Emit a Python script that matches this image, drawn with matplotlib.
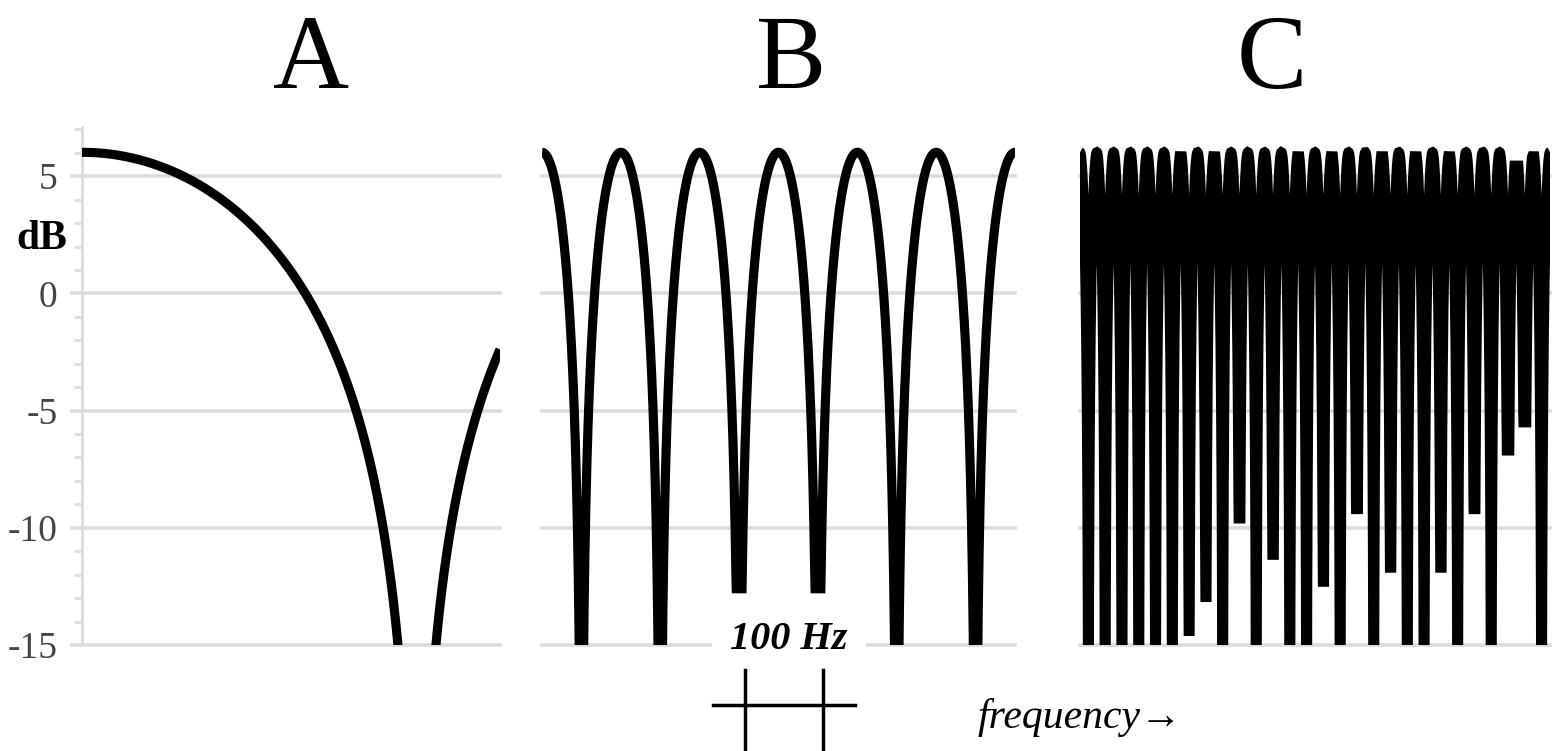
import numpy as np
import matplotlib
matplotlib.use('Agg')
import matplotlib.pyplot as plt
from matplotlib.lines import Line2D
from matplotlib.ticker import MultipleLocator
from matplotlib.transforms import blended_transform_factory

# ---------------- data ----------------
panel_titles = ['A', 'B', 'C']
freq_max_hz = [600.0, 600.0, 600.0]          # shown frequency span of each panel
comb_delay_ms = [1.04, 10.0, 46.67]          # notch spacing = 1 / delay

# lowest level reached at each notch (left to right); -40 = runs off the bottom
notch_floor_db_A = [-40.0]
notch_floor_db_B = [-40.0, -40.0, -12.6, -12.6, -40.0, -40.0]
notch_floor_db_C = [-40.0, -40.0, -40.0, -40.0, -40.0, -40.0, -14.4, -12.95,
                    -40.0, -9.6, -40.0, -11.15, -40.0, -40.0, -12.3, -40.0,
                    -9.2, -40.0, -11.7, -40.0, -40.0, -11.7, -40.0, -9.2,
                    -40.0, -6.7, -5.5, -40.0]

# highest level reached at each peak (left to right)
peak_level_db_A = [6.02, 6.02]
peak_level_db_B = [6.02, 6.02, 6.02, 6.02, 6.02, 6.02, 6.02]
peak_level_db_C = [6.02, 6.02, 6.02, 6.02, 6.02, 6.02, 5.85, 6.02, 5.85, 6.02,
                   6.02, 6.02, 6.02, 5.85, 6.02, 5.85, 6.02, 6.02, 5.85, 6.02,
                   5.85, 6.02, 5.85, 6.02, 6.02, 6.02, 5.45, 5.85, 6.02]

ytick_values = [5, 0, -5, -10, -15]
ytick_labels = ['5', '0', '-5', '-10', '-15']
y_limits_db = (-15.0, 7.1)
scale_bar_hz = [257.0, 357.0]
scale_bar_text = '100 Hz'
x_axis_text = 'frequency\u2192'
y_axis_text = 'dB'

floors = [notch_floor_db_A, notch_floor_db_B, notch_floor_db_C]
peaks = [peak_level_db_A, peak_level_db_B, peak_level_db_C]


def comb_response(fmax, delay_ms, floor_db, peak_db, n=40000):
    f = np.linspace(0.0, fmax, n)
    period = 1000.0 / delay_ms
    mag = 20 * np.log10(np.maximum(2 * np.abs(np.cos(np.pi * f / period)), 1e-6))
    k_notch = np.clip(np.floor(f / period).astype(int), 0, len(floor_db) - 1)
    k_peak = np.clip(np.round(f / period).astype(int), 0, len(peak_db) - 1)
    mag = np.maximum(mag, np.asarray(floor_db)[k_notch])
    mag = np.minimum(mag, np.asarray(peak_db)[k_peak])
    return f, mag


# ---------------- layout ----------------
W, H = 1557, 751
fig = plt.figure(figsize=(W / 100, H / 100), dpi=100)
fig.patch.set_facecolor('white')

serif = ['Liberation Serif', 'DejaVu Serif']
grid_color = '#dcdcdc'

top_px, bot_px = 127, 645
panel_x_px = [(82, 500), (542, 1015), (1080, 1550)]
title_x_px = [311, 791, 1272]
line_widths = [6.6, 6.6, 7.3]

axes = []
for i, (x0, x1) in enumerate(panel_x_px):
    ax = fig.add_axes([x0 / W, 1 - bot_px / H, (x1 - x0) / W, (bot_px - top_px) / H])
    ax.set_xlim(0, freq_max_hz[i])
    ax.set_ylim(*y_limits_db)
    for s in ax.spines.values():
        s.set_visible(False)
    ax.set_xticks([])
    for yv in ytick_values:
        ax.axhline(yv, color=grid_color, lw=2.6, zorder=1, clip_on=False)
    f, mag = comb_response(freq_max_hz[i], comb_delay_ms[i], floors[i], peaks[i])
    ax.plot(f, mag, color='black', lw=line_widths[i], solid_capstyle='butt',
            solid_joinstyle='miter', zorder=3)
    if i == 0:
        ax.spines['left'].set_visible(True)
        ax.spines['left'].set_color(grid_color)
        ax.spines['left'].set_linewidth(2.0)
        ax.set_yticks(ytick_values)
        ax.set_yticklabels(ytick_labels, fontfamily=serif, fontsize=27, color='#444444')
        ax.yaxis.set_minor_locator(MultipleLocator(1))
        ax.tick_params(axis='y', which='major', length=8.7, width=2.6, color=grid_color, pad=9)
        ax.tick_params(axis='y', which='minor', length=5.8, width=2.0, color=grid_color)
    else:
        ax.set_yticks([])
    fig.text(title_x_px[i] / W, 1 - 88 / H, panel_titles[i], ha='center', va='baseline',
             fontsize=76, family=serif, color='black')
    axes.append(ax)

# dB label
fig.text(42 / W, 1 - 249 / H, y_axis_text, ha='center', va='baseline', fontsize=30,
         fontweight='bold', family=serif, color='black')

# 100 Hz label with white background masking the grid line
fig.text(789 / W, 1 - 649 / H, scale_bar_text, ha='center', va='baseline', fontsize=29,
         fontstyle='italic', fontweight='bold', family=serif, color='black', zorder=5,
         bbox=dict(boxstyle='square,pad=0.45', fc='white', ec='none'))

# scale bar tied to panel B frequency axis
axB = axes[1]
tr = blended_transform_factory(axB.transData, fig.transFigure)
y_bar = 1 - 705 / H
fig.add_artist(Line2D([scale_bar_hz[0] - 40, scale_bar_hz[1] + 40], [y_bar, y_bar],
                      transform=tr, color='black', lw=2.5, zorder=10))
for hz in scale_bar_hz:
    fig.add_artist(Line2D([hz, hz], [1 - 670 / H, 0.0], transform=tr,
                          color='black', lw=2.5, zorder=10))

# frequency arrow label
fig.text(978 / W, 1 - 728 / H, x_axis_text, ha='left', va='baseline', fontsize=30,
         fontstyle='italic', family=serif, color='black')

fig.savefig('out.png', dpi=100, facecolor='white')
